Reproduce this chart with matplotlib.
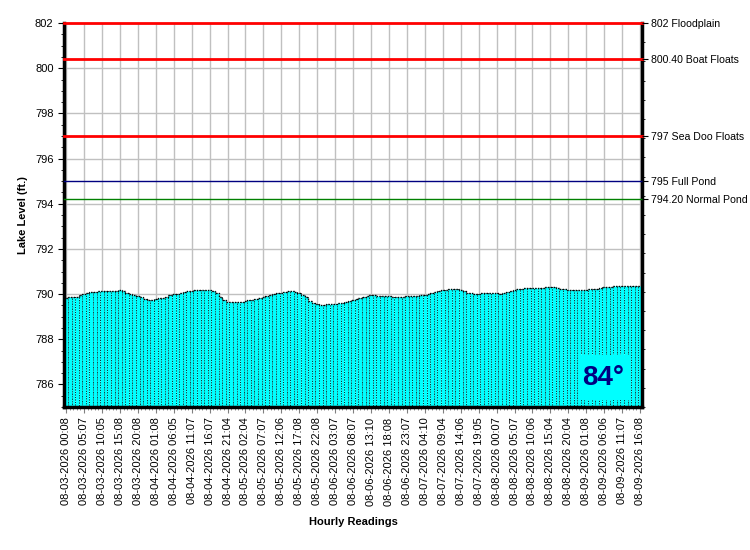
import numpy as np
import matplotlib.pyplot as plt
from matplotlib.patches import Rectangle

plt.rcParams['font.family'] = ['Liberation Sans', 'DejaVu Sans']

# hourly lake level readings (ft.)
levels = [
    789.84, 789.85, 789.86, 789.86, 789.97, 790.00, 790.04, 790.08, 790.10, 790.12,
    790.14, 790.15, 790.13, 790.14, 790.15, 790.16, 790.15, 790.04, 790.01, 789.96,
    789.92, 789.88, 789.80, 789.72, 789.74, 789.78, 789.82, 789.84, 789.88, 789.94,
    789.99, 790.02, 790.04, 790.09, 790.12, 790.14, 790.17, 790.19, 790.20, 790.19,
    790.18, 790.12, 790.03, 789.88, 789.72, 789.65, 789.64, 789.65, 789.65, 789.67,
    789.70, 789.72, 789.75, 789.78, 789.81, 789.86, 789.92, 789.97, 790.02, 790.04,
    790.06, 790.09, 790.12, 790.14, 790.10, 790.06, 789.98, 789.86, 789.70, 789.62,
    789.55, 789.50, 789.52, 789.55, 789.56, 789.58, 789.60, 789.62, 789.66, 789.71,
    789.76, 789.80, 789.84, 789.88, 789.92, 789.94, 789.94, 789.93, 789.92, 789.91,
    789.90, 789.89, 789.88, 789.88, 789.89, 789.90, 789.90, 789.92, 789.93, 789.95,
    789.98, 790.02, 790.06, 790.09, 790.13, 790.16, 790.19, 790.22, 790.23, 790.22,
    790.20, 790.12, 790.06, 790.03, 790.02, 790.02, 790.03, 790.03, 790.03, 790.03,
    790.03, 790.02, 790.03, 790.08, 790.14, 790.19, 790.21, 790.24, 790.26, 790.27,
    790.27, 790.28, 790.28, 790.29, 790.31, 790.33, 790.31, 790.27, 790.24, 790.22,
    790.20, 790.18, 790.17, 790.16, 790.17, 790.19, 790.21, 790.22, 790.24, 790.27,
    790.30, 790.31, 790.32, 790.34, 790.36, 790.38, 790.38, 790.37, 790.37, 790.36,
    790.35,
]

tick_labels = [
    "08-03-2026 00:08", "08-03-2026 05:07", "08-03-2026 10:05", "08-03-2026 15:08",
    "08-03-2026 20:08", "08-04-2026 01:08", "08-04-2026 06:05", "08-04-2026 11:07",
    "08-04-2026 16:07", "08-04-2026 21:04", "08-05-2026 02:04", "08-05-2026 07:07",
    "08-05-2026 12:06", "08-05-2026 17:08", "08-05-2026 22:08", "08-06-2026 03:07",
    "08-06-2026 08:07", "08-06-2026 13:10", "08-06-2026 18:08", "08-06-2026 23:07",
    "08-07-2026 04:10", "08-07-2026 09:04", "08-07-2026 14:06", "08-07-2026 19:05",
    "08-08-2026 00:07", "08-08-2026 05:07", "08-08-2026 10:06", "08-08-2026 15:04",
    "08-08-2026 20:04", "08-09-2026 01:08", "08-09-2026 06:06", "08-09-2026 11:07",
    "08-09-2026 16:08",
]

ref_values = [802, 800.4, 797, 795, 794.2]
ref_names = ["802 Floodplain", "800.40 Boat Floats", "797 Sea Doo Floats",
             "795 Full Pond", "794.20 Normal Pond"]
ref_colors = ["#ff0000", "#ff0000", "#ff0000", "#000080", "#008000"]
ref_widths = [2, 2, 2, 1, 1]

temperature = "84°"

y_min, y_max = 785, 802

fig = plt.figure(figsize=(7.5, 5.5), dpi=100)
ax = fig.add_axes([0.0853, 0.26, 0.771, 0.698])

x = np.arange(len(levels))
ax.bar(x, np.array(levels) - y_min, bottom=y_min, width=1.0, color="#00ffff",
       edgecolor="black", linewidth=0.6, linestyle=(0, (1, 2)), zorder=2)
ax.step(x, levels, where="mid", color="black", linewidth=1, linestyle=(0, (1, 1)), zorder=3)

for v, c, w in zip(ref_values, ref_colors, ref_widths):
    ax.axhline(v, color=c, linewidth=w, zorder=4, clip_on=False)

ax.set_xlim(-0.6, len(levels) - 0.4)
ax.set_ylim(y_min, y_max)

major_x = np.arange(0, len(levels), 5)
ax.set_xticks(major_x)
ax.set_xticklabels(tick_labels, rotation=90, fontsize=8)
ax.set_xticks(x, minor=True)
ax.set_yticks(np.arange(786, 803, 2))
ax.set_yticklabels([str(v) for v in range(786, 803, 2)], fontsize=8)
ax.set_yticks(np.arange(785, 802.1, 0.5), minor=True)
ax.tick_params(axis="both", which="major", length=4, color="#808080")
ax.tick_params(axis="both", which="minor", length=2, color="#808080")
ax.tick_params(axis="y", which="both", color="black")

ax.grid(True, which="major", color="#c0c0c0", linewidth=1, zorder=0)
ax.set_axisbelow(True)

for side in ["left", "right", "bottom"]:
    ax.spines[side].set_linewidth(2.5)
    ax.spines[side].set_color("black")
ax.spines["top"].set_visible(False)

ax.set_ylabel("Lake Level (ft.)", fontsize=8, fontweight="bold")
ax.yaxis.set_label_coords(-0.062, 0.5)
ax.set_xlabel("Hourly Readings", fontsize=8, fontweight="bold", labelpad=8)

ax2 = ax.twinx()
ax2.set_ylim(y_min, y_max)
ax2.set_yticks(ref_values)
ax2.set_yticklabels(ref_names, fontsize=7.6)
ax2.set_yticks(np.arange(785, 802.1, 0.85), minor=True)
ax2.tick_params(axis="y", which="major", length=4, color="black", pad=2)
ax2.tick_params(axis="y", which="minor", length=2, color="black")
for side in ["left", "right", "bottom", "top"]:
    ax2.spines[side].set_visible(False)

ax.add_patch(Rectangle((0.889, 0.018), 0.088, 0.117, transform=ax.transAxes,
                       facecolor="#00ffff", edgecolor="none", zorder=5))
ax.text(0.933, 0.076, temperature, transform=ax.transAxes, ha="center", va="center",
        fontsize=20, fontweight="bold", color="#000080", zorder=6)

fig.savefig("out.png", dpi=100)
